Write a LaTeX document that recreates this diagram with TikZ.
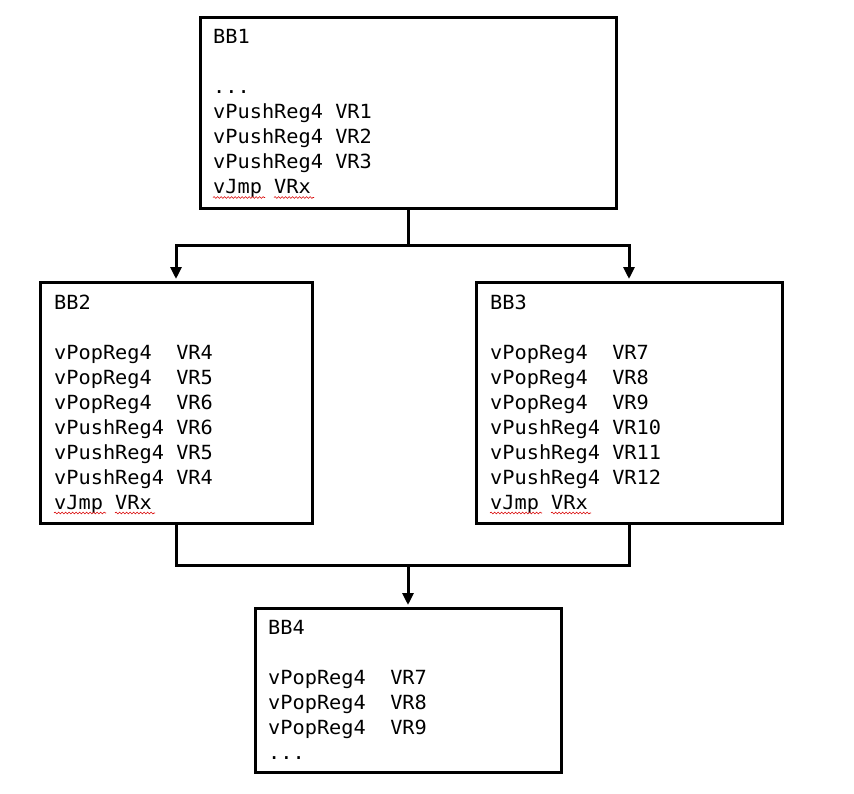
\documentclass[tikz,border=0pt]{standalone}
\usepackage{fontspec}
\newfontfamily\codefont[FakeStretch=1.04]{DejaVu Sans Mono}
\usetikzlibrary{arrows.meta,decorations.pathmorphing}
\tikzset{
  bbox/.style={draw=black, line width=3pt, rectangle, inner sep=0pt, fill=white},
  code/.style={inner sep=0pt, align=left, font=\codefont\fontsize{19.5}{25.1}\selectfont, anchor=base west},
  conn/.style={draw=black, line width=3pt},
  arr/.style={conn, -{Triangle[length=12pt,width=11pt]}, shorten >=1.5pt},
  wavy/.style={draw=red!85!black, line width=0.6pt, decorate, decoration={snake, amplitude=0.9pt, segment length=3.5pt}}
}
\newcommand\spellmark[2]{%
  \draw[wavy] (#1,#2) -- ++(52,0);
  \draw[wavy] (#1+61,#2) -- ++(40,0);}
\begin{document}
\begin{tikzpicture}[x=1pt,y=-1pt]
\useasboundingbox (0,0) rectangle (854,793);
% boxes
\node[bbox, minimum width=416pt, minimum height=191pt] (bb1) at (408,112.5) {};
\node[bbox, minimum width=272pt, minimum height=241pt] (bb2) at (176,402.5) {};
\node[bbox, minimum width=306pt, minimum height=241pt] (bb3) at (629,402.5) {};
\node[bbox, minimum width=306pt, minimum height=164pt] (bb4) at (408,690) {};
% texts (anchored at the baseline of their last line)
\node[code] (t1) at (213,193.6) {BB1\\\mbox{}\\...\\vPushReg4 VR1\\vPushReg4 VR2\\vPushReg4 VR3\\vJmp VRx};
\node[code] (t2) at (54,509.8) {BB2\\\mbox{}\\vPopReg4\ \ VR4\\vPopReg4\ \ VR5\\vPopReg4\ \ VR6\\vPushReg4 VR6\\vPushReg4 VR5\\vPushReg4 VR4\\vJmp VRx};
\node[code] (t3) at (490,509.8) {BB3\\\mbox{}\\vPopReg4\ \ VR7\\vPopReg4\ \ VR8\\vPopReg4\ \ VR9\\vPushReg4 VR10\\vPushReg4 VR11\\vPushReg4 VR12\\vJmp VRx};
\node[code] (t4) at (268,759.5) {BB4\\\mbox{}\\vPopReg4\ \ VR7\\vPopReg4\ \ VR8\\vPopReg4\ \ VR9\\...};
% spell-check marks
\spellmark{213}{197.5}
\spellmark{54}{513}
\spellmark{490}{513}
% connectors
\coordinate (split) at (408,245);
\coordinate (join) at (408,565);
\draw[conn] (bb1.south) -- (split);
\draw[arr] (split) -| (bb2.north);
\draw[arr] (split) -| (bb3.north);
\draw[conn] (bb2.south) |- (join);
\draw[conn] (bb3.south) |- (join);
\draw[arr] (join) -- (bb4.north);
\end{tikzpicture}
\end{document}
